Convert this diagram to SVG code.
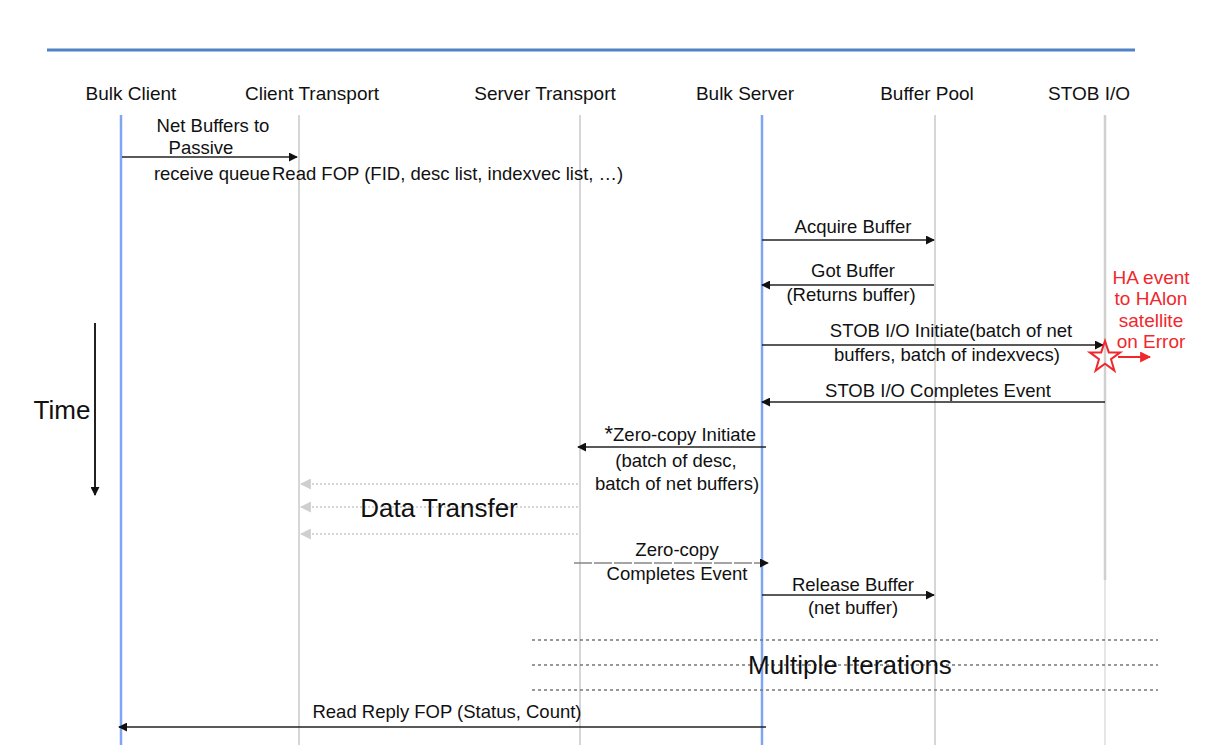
<svg xmlns="http://www.w3.org/2000/svg" width="1218" height="752" viewBox="0 0 1218 752">
<defs>
<style>
text{font-family:"Liberation Sans",Arial,sans-serif;fill:#111;}
.hdr{font-size:19px;text-anchor:middle;}
.lbl{font-size:18.5px;text-anchor:middle;}
.big{font-size:26px;text-anchor:middle;}
.red{font-size:19px;text-anchor:middle;fill:#f0282d;}
.life{stroke:#d6d6d6;stroke-width:2;fill:none;}
.lifeb{stroke:#7ea6f4;stroke-width:2.5;fill:none;}
.msg{stroke:#222;stroke-width:1.3;fill:none;marker-end:url(#ah);}
.dot{stroke:#c8c8c8;stroke-width:1.5;stroke-dasharray:2 2;fill:none;marker-end:url(#ahg);}
.iter{stroke:#777;stroke-width:1.3;stroke-dasharray:3 3;fill:none;}
</style>
<marker id="ah" viewBox="0 0 10 10" refX="9" refY="5" markerWidth="9" markerHeight="9" markerUnits="userSpaceOnUse" orient="auto"><path d="M0,0 L10,5 L0,10 z" fill="#111"/></marker>
<marker id="ahg" viewBox="0 0 10 10" refX="9" refY="5" markerWidth="11" markerHeight="11" markerUnits="userSpaceOnUse" orient="auto"><path d="M0,0 L10,5 L0,10 z" fill="#cfcfcf"/></marker>
<marker id="ahr" viewBox="0 0 10 10" refX="9" refY="5" markerWidth="11" markerHeight="11" markerUnits="userSpaceOnUse" orient="auto"><path d="M0,0 L10,5 L0,10 z" fill="#f0282d"/></marker>
</defs>
<rect width="1218" height="752" fill="#fff"/>
<line x1="47" y1="50" x2="1135" y2="50" stroke="#5182c4" stroke-width="3"/>

<g id="bulk-client"><text class="hdr" x="131" y="100">Bulk Client</text><line class="lifeb" x1="121" y1="115" x2="121" y2="745"/></g>
<g id="client-transport"><text class="hdr" x="312" y="100">Client Transport</text><line class="life" x1="299" y1="115" x2="299" y2="745"/></g>
<g id="server-transport"><text class="hdr" x="545" y="100">Server Transport</text><line class="life" x1="580" y1="115" x2="580" y2="745"/></g>
<g id="bulk-server"><text class="hdr" x="745" y="100">Bulk Server</text><line class="lifeb" x1="762" y1="115" x2="762" y2="745"/></g>
<g id="buffer-pool"><text class="hdr" x="927" y="100">Buffer Pool</text><line class="life" x1="935" y1="115" x2="935" y2="745"/></g>
<g id="stob-io"><text class="hdr" x="1089" y="100">STOB I/O</text><line x1="1105" y1="115" x2="1105" y2="580" stroke="#cfcfcf" stroke-width="2.5"/><line x1="1105" y1="580" x2="1105" y2="745" stroke="#e6e6e6" stroke-width="2"/></g>

<g id="time"><line x1="95" y1="323" x2="95" y2="495" stroke="#222" stroke-width="2" marker-end="url(#ah)"/><text x="62" y="419" style="font-size:26px;text-anchor:middle">Time</text></g>

<g id="connectors">
<line class="msg" x1="122" y1="157" x2="297" y2="157"/>
<line class="msg" x1="762" y1="240" x2="934" y2="240"/>
<line class="msg" x1="934" y1="285" x2="762" y2="285"/>
<line class="msg" x1="762" y1="345" x2="1103" y2="345"/>
<line class="msg" x1="1105" y1="402" x2="762" y2="402"/>
<line class="msg" x1="766" y1="447" x2="578" y2="447"/>
<line class="dot" x1="578" y1="484" x2="301" y2="484"/>
<line class="dot" x1="578" y1="507" x2="301" y2="507"/>
<line class="dot" x1="578" y1="534" x2="301" y2="534"/>
<path d="M574,563 H768" stroke="#888" stroke-width="1.3" stroke-dasharray="18 2" fill="none" marker-end="url(#ah)"/>
<line class="msg" x1="762" y1="595" x2="934" y2="595"/>
<line class="iter" x1="532" y1="640" x2="1158" y2="640"/>
<line class="iter" x1="532" y1="665" x2="1158" y2="665"/>
<line class="iter" x1="532" y1="690" x2="1158" y2="690"/>
<line class="msg" x1="766" y1="727" x2="119" y2="727"/>
<line x1="1118" y1="357" x2="1150" y2="357" stroke="#f0282d" stroke-width="2" marker-end="url(#ahr)"/>
</g>

<g id="star"><polygon points="1105,341 1108.8,352.4 1120.2,352.4 1111,359.2 1114.4,370.6 1105,363.8 1095.6,370.6 1099,359.2 1089.8,352.4 1101.2,352.4" fill="none" stroke="#f0282d" stroke-width="2"/></g>

<g id="labels">
<text class="lbl" x="213" y="132">Net Buffers to</text>
<text class="lbl" x="201" y="154">Passive</text>
<text class="lbl" x="212" y="180">receive queue</text>
<text x="272" y="180" style="font-size:18.5px">Read FOP (FID, desc list, indexvec list, …)</text>
<text class="lbl" x="853" y="233">Acquire Buffer</text>
<text class="lbl" x="853" y="277">Got Buffer</text>
<text class="lbl" x="851" y="301">(Returns buffer)</text>
<text class="lbl" x="951" y="337">STOB I/O Initiate(batch of net</text>
<text class="lbl" x="947" y="361">buffers, batch of indexvecs)</text>
<text class="lbl" x="938" y="397">STOB I/O Completes Event</text>
<text class="red" x="1151" y="284">HA event</text>
<text class="red" x="1151" y="305">to HAlon</text>
<text class="red" x="1151" y="327">satellite</text>
<text class="red" x="1151" y="348">on Error</text>
<text x="756" y="441" style="font-size:18.5px;text-anchor:end"><tspan style="font-size:22px">*</tspan>Zero-copy Initiate</text>
<text class="lbl" x="676" y="467">(batch of desc,</text>
<text class="lbl" x="677" y="490">batch of net buffers)</text>
<text class="big" x="439" y="517">Data Transfer</text>
<text class="lbl" x="677" y="556">Zero-copy</text>
<text class="lbl" x="677" y="580">Completes Event</text>
<text class="lbl" x="853" y="591">Release Buffer</text>
<text class="lbl" x="853" y="614">(net buffer)</text>
<text class="big" x="850" y="674">Multiple Iterations</text>
<text class="lbl" x="447" y="718">Read Reply FOP (Status, Count)</text>
</g>
</svg>
